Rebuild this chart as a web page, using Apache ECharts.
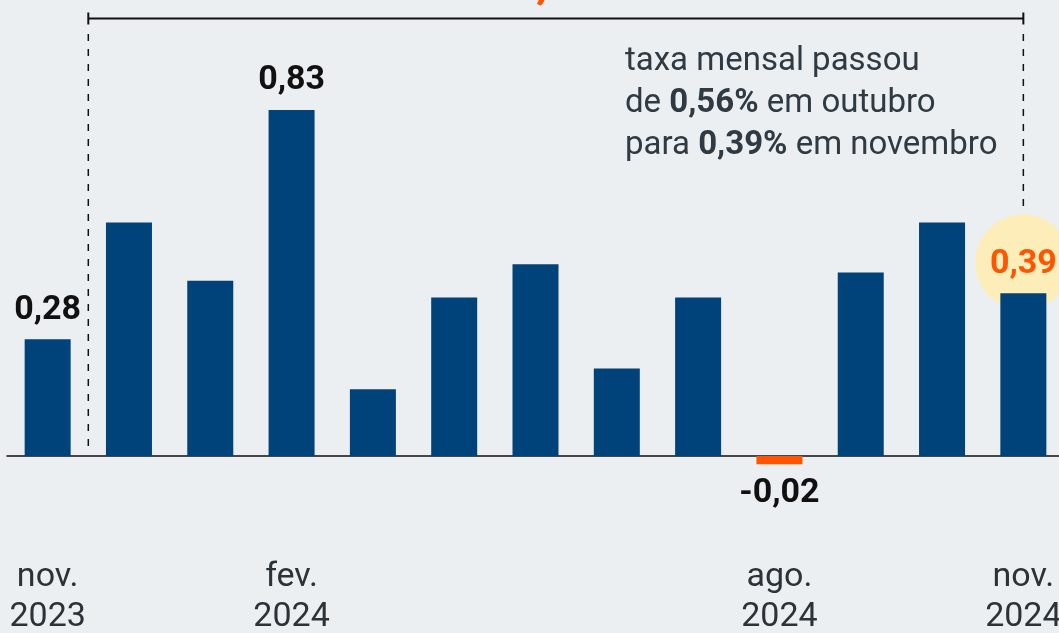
<!DOCTYPE html>
<html style="height: 100%">
<head>
	<meta charset="utf-8">
</head>
<body style="height: 100%; margin: 0; background: #eceff2">
<div id="container" style="width: 1059px; height: 633px"></div>
<script type="text/javascript" src="https://cdn.jsdelivr.net/npm/echarts@6/dist/echarts.min.js"></script>
<script type="text/javascript">
    var meses = ['nov.\n2023', 'dez.\n2023', 'jan.\n2024', 'fev.\n2024', 'mar.\n2024', 'abr.\n2024',
        'mai.\n2024', 'jun.\n2024', 'jul.\n2024', 'ago.\n2024', 'set.\n2024', 'out.\n2024', 'nov.\n2024'];
    var taxas = [0.28, 0.56, 0.42, 0.83, 0.16, 0.38, 0.46, 0.21, 0.38, -0.02, 0.44, 0.56, 0.39];
    var mesesVisiveis = [0, 3, 9, 12];
    var rotulados = [0, 3, 9, 12];
    var acumulado = '4,87%';

    var dom = document.getElementById("container");
    var myChart = echarts.init(dom);
    var fonte = 'Roboto';

    var ultimo = taxas.length - 1;

    var barras = taxas.map(function (v, i) {
        var item = {
            value: v,
            itemStyle: { color: v < 0 ? '#ff5500' : '#00427a' }
        };
        if (rotulados.indexOf(i) >= 0) {
            item.label = {
                show: true,
                position: v < 0 ? 'bottom' : 'top',
                distance: v < 0 ? 11 : 11,
                formatter: function (p) { return p.value.toFixed(2).replace('.', ','); },
                color: i === ultimo ? '#ff5500' : '#111',
                fontFamily: fonte,
                fontWeight: 'bold',
                fontSize: 34,
                lineHeight: 36
            };
        }
        return item;
    });

    // circulo amarelo atras do ultimo valor
    var destaque = taxas.map(function (v, i) { return i === ultimo ? v : '-'; });

    var option = {
        backgroundColor: '#eceff2',
        animation: false,
        grid: { left: 7, width: 1057, top: 39, height: 458.7, outerBoundsMode: 'none', containLabel: false },
        xAxis: {
            type: 'category',
            data: meses,
            axisLine: { lineStyle: { color: '#111', width: 1.5 } },
            axisTick: { show: false },
            axisLabel: {
                interval: function (i) { return mesesVisiveis.indexOf(i) >= 0; },
                margin: 60,
                color: '#2b3238',
                fontFamily: fonte,
                fontSize: 34,
                lineHeight: 40,
                hideOverlap: false
            }
        },
        yAxis: {
            type: 'value',
            min: -0.1,
            max: 1.0,
            show: false,
            splitLine: { show: false }
        },
        series: [
            {
                type: 'scatter',
                data: destaque,
                symbol: 'circle',
                symbolSize: 96,
                symbolOffset: [0, -31],
                itemStyle: { color: '#fdedb9', opacity: 1 },
                z: 1,
                silent: true
            },
            {
                type: 'bar',
                data: barras,
                barWidth: 46,
                z: 2
            }
        ]
    };

    myChart.setOption(option);

    var xEsq = (myChart.convertToPixel({ xAxisIndex: 0 }, 0) + myChart.convertToPixel({ xAxisIndex: 0 }, 1)) / 2;
    var xDir = myChart.convertToPixel({ xAxisIndex: 0 }, ultimo);
    var yBase = myChart.convertToPixel({ yAxisIndex: 0 }, 0);
    var yChave = 18.5;
    var tracejado = { stroke: '#111', lineWidth: 1.5, lineDash: [7, 8] };

    myChart.setOption({
        graphic: [
            { type: 'line', shape: { x1: xEsq, y1: yChave, x2: xDir, y2: yChave }, style: { stroke: '#111', lineWidth: 2 } },
            { type: 'line', shape: { x1: xEsq, y1: yChave - 6, x2: xEsq, y2: yChave + 6 }, style: { stroke: '#111', lineWidth: 2 } },
            { type: 'line', shape: { x1: xDir, y1: yChave - 6, x2: xDir, y2: yChave + 6 }, style: { stroke: '#111', lineWidth: 2 } },
            { type: 'line', shape: { x1: xEsq, y1: 34, x2: xEsq, y2: yBase - 4 }, style: tracejado },
            { type: 'line', shape: { x1: xDir, y1: 34, x2: xDir, y2: 213 }, style: tracejado },
            {
                type: 'text', x: 575, y: 9,
                style: {
                    text: acumulado, fill: '#ff5500', font: 'bold 50px Roboto',
                    textAlign: 'center', textVerticalAlign: 'bottom'
                }
            },
            {
                type: 'text', x: 625, y: 41,
                style: {
                    text: 'taxa mensal passou\nde {b|0,56%} em outubro\npara {b|0,39%} em novembro',
                    fill: '#2f3a42',
                    fontFamily: fonte,
                    fontSize: 33,
                    lineHeight: 42,
                    rich: {
                        b: { fontFamily: fonte, fontSize: 33, fontWeight: 'bold', fill: '#2f3a42', lineHeight: 42 }
                    }
                }
            }
        ]
    });
</script>
</body>
</html>
